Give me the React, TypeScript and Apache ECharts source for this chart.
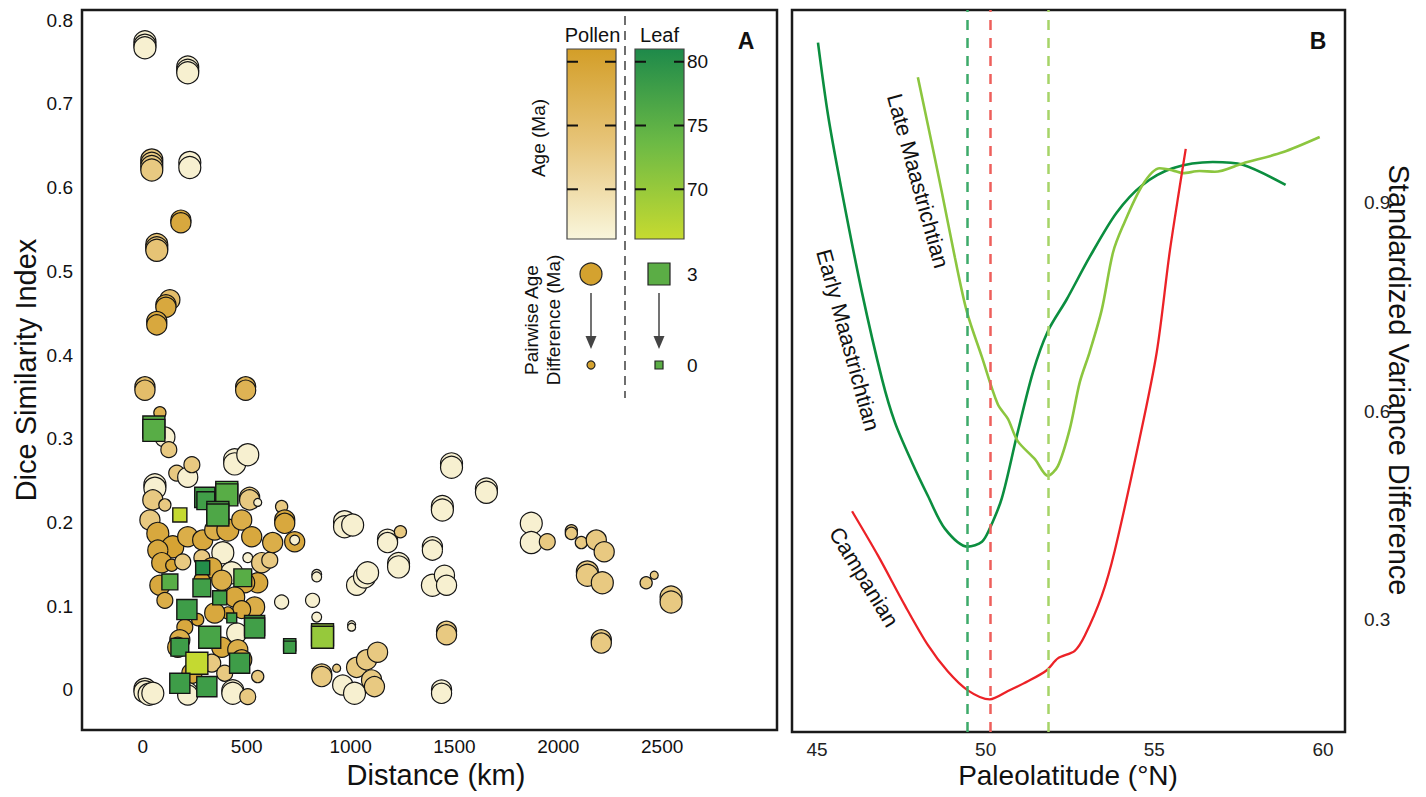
import React, { useEffect, useRef } from "react";
import * as echarts from "echarts";

const FONT = '"Liberation Sans", Arial, Helvetica, sans-serif';

// ---------- Panel A data: [distance km, Dice similarity, age (Ma), pairwise age difference (Ma)]
const pollenNear: number[][] = [
  [10, 0.774, 67, 3], [10, 0.770, 67, 3], [10, 0.767, 67, 3],
  [216, 0.744, 67, 3], [216, 0.740, 67, 3], [216, 0.737, 67, 3],
  [43, 0.633, 73, 3], [43, 0.629, 73, 3], [43, 0.625, 73, 3], [43, 0.621, 73, 3],
  [226, 0.630, 67, 3], [226, 0.624, 67, 3],
  [183, 0.561, 79, 2.6], [183, 0.558, 79, 2.6],
  [67, 0.532, 74, 3], [67, 0.528, 74, 3], [67, 0.525, 74, 3],
  [130, 0.466, 75, 2.6], [111, 0.460, 79, 2.6], [111, 0.457, 79, 2.6],
  [67, 0.440, 79, 2.6], [67, 0.436, 79, 2.6],
  [10, 0.362, 75, 2.6], [10, 0.358, 75, 2.6],
  [495, 0.362, 77, 2.6], [495, 0.358, 77, 2.6],
  [82, 0.331, 77, 0.9], [106, 0.302, 67, 2.6], [125, 0.287, 73, 1.7],
  [58, 0.245, 67, 3], [58, 0.241, 67, 3], [48, 0.227, 73, 2.6], [106, 0.221, 73, 0.9],
  [163, 0.259, 73, 1.7], [216, 0.254, 67, 2.6], [236, 0.269, 73, 1.7],
  [442, 0.275, 67, 3], [442, 0.270, 67, 3], [505, 0.281, 67, 3],
  [514, 0.230, 73, 2.6], [514, 0.227, 73, 2.6], [553, 0.224, 67, 0], [668, 0.219, 73, 0.9],
  [683, 0.203, 79, 2.6], [683, 0.199, 79, 2.6], [731, 0.177, 79, 2.6], [731, 0.179, 67, 0.4],
  [34, 0.203, 73, 2.6], [72, 0.187, 79, 3], [144, 0.171, 80, 3], [216, 0.183, 78, 2.6],
  [72, 0.167, 79, 2.6], [288, 0.179, 79, 2.6], [346, 0.191, 78, 2.6], [409, 0.191, 79, 3],
  [476, 0.203, 78, 2.6], [524, 0.183, 79, 2.6],
  [385, 0.164, 67, 3], [505, 0.158, 67, 0.4], [428, 0.140, 67, 3],
  [553, 0.128, 79, 2.6], [572, 0.152, 73, 2.6], [611, 0.155, 73, 1.7],
  [91, 0.152, 79, 2.6], [139, 0.149, 80, 0.9], [192, 0.153, 73, 1.7], [284, 0.158, 73, 1.7],
  [332, 0.146, 79, 2.6], [284, 0.131, 80, 1.7], [490, 0.128, 79, 2.6], [380, 0.131, 78, 2.6],
  [625, 0.176, 78, 2.6], [82, 0.125, 79, 2.6], [106, 0.107, 78, 1.7],
  [442, 0.111, 79, 2.6], [538, 0.099, 78, 2.6], [476, 0.096, 79, 2.1], [409, 0.092, 80, 0.9],
  [346, 0.092, 79, 2.6], [202, 0.075, 79, 1.7], [178, 0.060, 78, 2.6], [168, 0.051, 79, 2.6],
  [264, 0.084, 80, 0.9], [452, 0.068, 67, 2.6], [380, 0.051, 79, 2.6], [457, 0.048, 78, 2.6],
  [236, 0.020, 79, 2.6], [332, 0.032, 73, 2.1], [394, 0.020, 73, 1.7], [476, 0.036, 79, 2.6],
  [553, 0.016, 73, 0.9],
  [10, 0.001, 67, 3], [10, -0.002, 67, 3], [30, -0.005, 67, 3], [48, -0.004, 67, 3],
  [216, -0.003, 67, 2.6], [216, -0.006, 67, 2.6], [433, -0.001, 67, 3], [433, -0.004, 67, 3],
  [505, -0.008, 73, 1.7], [668, 0.105, 67, 1.3],
];

const pollenMid: number[][] = [
  [837, 0.138, 67, 0.4], [837, 0.135, 67, 0.4], [817, 0.107, 67, 1.3], [837, 0.087, 67, 0.4],
  [1005, 0.078, 67, 0], [1005, 0.075, 67, 0],
  [971, 0.201, 67, 3], [971, 0.195, 67, 3], [1010, 0.197, 67, 3],
  [1178, 0.180, 67, 2.6], [1178, 0.176, 67, 2.6], [1240, 0.189, 73, 0.9],
  [1231, 0.151, 67, 3], [1231, 0.147, 67, 3],
  [1029, 0.125, 67, 2.6], [1067, 0.135, 67, 3], [1082, 0.140, 67, 3],
  [1394, 0.171, 67, 2.6], [1394, 0.167, 67, 2.6], [1394, 0.125, 67, 3],
  [1452, 0.137, 67, 2.6], [1462, 0.125, 67, 2.6],
  [1486, 0.270, 67, 3], [1486, 0.266, 67, 3], [1442, 0.219, 67, 3], [1442, 0.215, 67, 3],
  [1462, 0.070, 73, 2.6], [1462, 0.066, 73, 2.6], [1438, 0.000, 67, 2.6], [1438, -0.004, 67, 2.6],
  [861, 0.019, 73, 2.6], [861, 0.016, 73, 2.6], [933, 0.026, 73, 0],
  [962, 0.006, 67, 2.6], [1019, -0.004, 67, 3],
  [1029, 0.027, 73, 2.6], [1077, 0.036, 73, 2.6], [1130, 0.045, 73, 2.6],
  [1101, 0.012, 73, 2.6], [1115, 0.004, 73, 2.6],
];

const pollenFar: number[][] = [
  [1654, 0.240, 67, 3], [1654, 0.236, 67, 3],
  [1870, 0.199, 67, 3], [1870, 0.176, 67, 3], [1947, 0.177, 73, 1.7],
  [2063, 0.190, 73, 0.9], [2063, 0.187, 73, 0.9], [2111, 0.176, 73, 0.9],
  [2183, 0.179, 73, 2.6], [2221, 0.165, 73, 2.6],
  [2140, 0.141, 73, 3], [2140, 0.137, 73, 3], [2212, 0.128, 73, 3],
  [2207, 0.060, 73, 2.6], [2207, 0.056, 73, 2.6],
  [2423, 0.128, 73, 0.9], [2462, 0.137, 73, 0],
  [2543, 0.111, 73, 3], [2543, 0.105, 73, 3],
];

const leafPoints: number[][] = [
  [53, 0.314, 75.5, 3], [53, 0.310, 75.5, 3],
  [298, 0.230, 77.7, 2.6], [303, 0.226, 77.7, 2.1],
  [404, 0.236, 75.5, 3], [404, 0.233, 75.5, 3],
  [361, 0.212, 76.5, 3], [361, 0.209, 76.5, 3],
  [178, 0.209, 66.3, 1.3], [130, 0.129, 75.5, 1.7], [288, 0.146, 80.5, 1.3],
  [284, 0.122, 77.7, 2.1], [481, 0.134, 75.5, 2.1], [370, 0.110, 77.7, 1.3],
  [212, 0.096, 78, 2.6], [538, 0.077, 77.7, 2.6], [538, 0.074, 77.7, 2.6],
  [322, 0.063, 77, 3], [428, 0.086, 78, 0.4], [178, 0.051, 78, 2.1],
  [260, 0.032, 66.3, 3], [466, 0.032, 78, 2.6], [178, 0.008, 78, 2.6], [308, 0.004, 78, 2.6],
  [707, 0.054, 78, 0.9], [707, 0.051, 78, 0.9],
  [865, 0.066, 70.1, 3], [865, 0.063, 70.1, 3],
];

const distanceTicks = [0, 500, 1000, 1500, 2000, 2500];
const diceTicks = [0, 0.1, 0.2, 0.3, 0.4, 0.5, 0.6, 0.7, 0.8];
const ageTicks = [70, 75, 80];
const diffLegend = [3, 0];
const ageRange = [66.1, 81];
const diffRange = [0, 3];

// ---------- Panel B data
const latTicks = [45, 50, 55, 60];
const varianceTicks = [0.3, 0.6, 0.9];

const earlyLat = [45.03, 45.33, 45.74, 46.33, 46.93, 47.31, 47.81, 48.29, 48.79, 49.47, 49.89, 50.12, 50.48, 50.92, 51.4, 51.84, 52.4, 53.08, 53.88, 54.65, 55.54, 56.73, 57.62, 58.89];
const earlyVar = [1.131, 1.026, 0.916, 0.772, 0.646, 0.584, 0.527, 0.478, 0.431, 0.405, 0.412, 0.431, 0.475, 0.564, 0.656, 0.715, 0.761, 0.822, 0.886, 0.926, 0.950, 0.959, 0.955, 0.926];

const lateLat = [47.99, 48.29, 48.7, 49.09, 49.44, 49.89, 50.36, 50.66, 50.95, 51.46, 51.84, 52.14, 52.49, 52.79, 53.08, 53.44, 53.77, 54.06, 54.65, 55.16, 55.54, 55.84, 56.34, 56.79, 57.62, 58.8, 59.9];
const lateVar = [1.081, 1.012, 0.916, 0.821, 0.744, 0.678, 0.610, 0.589, 0.557, 0.531, 0.507, 0.521, 0.574, 0.642, 0.685, 0.746, 0.828, 0.866, 0.926, 0.950, 0.947, 0.943, 0.946, 0.945, 0.957, 0.973, 0.995];

const campLat = [46.04, 46.81, 47.61, 48.29, 48.88, 49.47, 50.12, 50.66, 51.25, 51.81, 52.14, 52.64, 52.94, 53.44, 53.82, 54.56, 55.07, 55.45, 55.75, 55.93];
const campVar = [0.456, 0.392, 0.320, 0.263, 0.225, 0.198, 0.185, 0.197, 0.211, 0.227, 0.244, 0.255, 0.277, 0.334, 0.398, 0.560, 0.685, 0.828, 0.923, 0.978];

const optimumLat = [49.44, 50.13, 51.86]; // early, campanian, late

const POLLEN_COLORS = ["#F9F6DC", "#E7C57A", "#D39E28"];
const LEAF_COLORS = ["#C6DA30", "#6DBA45", "#1E8A4A"];

const zip = (a: number[], b: number[]) => a.map((v, i) => [v, b[i]]);
const sizeOf = (d: number) => 8 + ((d - diffRange[0]) / (diffRange[1] - diffRange[0])) * 14;

function tickFmt(ticks: number[], digits: number) {
  return (v: number) => {
    const t = ticks.find((x) => Math.abs(x - v) < 1e-6);
    if (t === undefined) return "";
    return t === 0 ? "0" : t.toFixed(digits);
  };
}

function buildLegend(): any[] {
  const barTop = 49, barH = 190, barW = 49;
  const pX = 567, lX = 635;
  const ageY = (v: number) => barTop + ((ageRange[1] - v) / (ageRange[1] - ageRange[0])) * barH;
  const grad = (cols: string[]) =>
    new echarts.graphic.LinearGradient(0, 0, 0, 1, [
      { offset: 0, color: cols[2] },
      { offset: 0.5, color: cols[1] },
      { offset: 1, color: cols[0] },
    ]);
  const els: any[] = [];
  const txt = (x: number, y: number, text: string, size: number, extra: any = {}) => ({
    type: "text", x, y, z: 100, ...extra,
    style: { text, fill: "#111", fontSize: size, fontFamily: FONT, align: "center", verticalAlign: "middle", ...(extra.style || {}) },
  });
  els.push(txt(pX + barW / 2 + 1, 35, "Pollen", 20));
  els.push(txt(lX + barW / 2, 35, "Leaf", 20));
  els.push({ type: "line", z: 100, shape: { x1: 625, y1: 16, x2: 625, y2: 398 }, style: { stroke: "#222", lineWidth: 1.3, lineDash: [9, 6] } });
  els.push({ type: "rect", z: 100, shape: { x: pX, y: barTop, width: barW, height: barH }, style: { fill: grad(POLLEN_COLORS), stroke: "#444", lineWidth: 1.2 } });
  els.push({ type: "rect", z: 100, shape: { x: lX, y: barTop, width: barW, height: barH }, style: { fill: grad(LEAF_COLORS), stroke: "#444", lineWidth: 1.2 } });
  ageTicks.forEach((a) => {
    const y = ageY(a);
    [[pX, pX + 11], [pX + barW - 11, pX + barW], [lX, lX + 11], [lX + barW - 10, lX + barW]].forEach(([x1, x2]) =>
      els.push({ type: "line", z: 101, shape: { x1, y1: y, x2, y2: y }, style: { stroke: "#111", lineWidth: 2 } })
    );
    els.push(txt(687, y, String(a), 19, { style: { align: "left" } }));
  });
  els.push(txt(538, 138, "Age (Ma)", 19, { rotation: Math.PI / 2 }));
  els.push(txt(542, 320, "Pairwise Age\nDifference (Ma)", 19, { rotation: Math.PI / 2, style: { lineHeight: 22 } }));
  const yBig = 274, ySmall = 365;
  const cx = 591, sx = 659;
  const big = sizeOf(diffLegend[0]), small = sizeOf(diffLegend[1]);
  els.push({ type: "circle", z: 100, shape: { cx, cy: yBig, r: big / 2 }, style: { fill: "#D4A22F", stroke: "#222", lineWidth: 1.2 } });
  els.push({ type: "circle", z: 100, shape: { cx, cy: ySmall, r: small / 2 }, style: { fill: "#D4A22F", stroke: "#222", lineWidth: 1.2 } });
  els.push({ type: "rect", z: 100, shape: { x: sx - big / 2, y: yBig - big / 2, width: big, height: big }, style: { fill: "#5BAD45", stroke: "#222", lineWidth: 1.2 } });
  els.push({ type: "rect", z: 100, shape: { x: sx - small / 2, y: ySmall - small / 2, width: small, height: small }, style: { fill: "#5BAD45", stroke: "#222", lineWidth: 1.2 } });
  [cx, sx].forEach((x) => {
    els.push({ type: "line", z: 100, shape: { x1: x, y1: 293, x2: x, y2: 338 }, style: { stroke: "#444", lineWidth: 1.5 } });
    els.push({ type: "polygon", z: 100, shape: { points: [[x - 5.5, 336], [x + 5.5, 336], [x, 349]] }, style: { fill: "#444" } });
  });
  els.push(txt(687, yBig, String(diffLegend[0]), 19, { style: { align: "left" } }));
  els.push(txt(687, ySmall, String(diffLegend[1]), 19, { style: { align: "left" } }));
  return els;
}

function buildTexts(): any[] {
  const t = (x: number, y: number, text: string, size: number, rot = 0, weight = "normal") => ({
    type: "text", x, y, rotation: rot, z: 100,
    style: { text, fill: "#111", fontSize: size, fontFamily: FONT, fontWeight: weight, align: "center", verticalAlign: "middle" },
  });
  const deg = Math.PI / 180;
  return [
    t(746, 41, "A", 23, 0, "bold"),
    t(1318, 41, "B", 23, 0, "bold"),
    t(26, 370, "Dice Similarity Index", 29, Math.PI / 2),
    t(436, 775, "Distance (km)", 29),
    t(1068, 775, "Paleolatitude (°N)", 28),
    t(1399, 380, "Standardized Variance Difference", 29, -Math.PI / 2),
    t(918, 181, "Late Maastrichtian", 22, -74.6 * deg),
    t(848, 340, "Early Maastrichtian", 22, -74.7 * deg),
    t(864, 577, "Campanian", 22, -58.5 * deg),
  ];
}

export default function App() {
  const ref = useRef<HTMLDivElement>(null);
  useEffect(() => {
    if (!ref.current) return;
    const chart = echarts.init(ref.current, undefined, { renderer: "svg" });
    const axisCommon = {
      axisLine: { show: false },
      axisTick: { show: false },
      splitLine: { show: false },
    };
    const labelStyle = { color: "#111", fontSize: 19, fontFamily: FONT, showMinLabel: false, showMaxLabel: false };
    const scatterStyle = { borderColor: "#151515", borderWidth: 1.2, opacity: 1 };
    const option: any = {
      animation: false,
      backgroundColor: "#ffffff",
      grid: [
        { left: 82, top: 10, width: 695, height: 720, show: true, borderColor: "#1a1a1a", borderWidth: 2.5, backgroundColor: "transparent" },
        { left: 792, top: 10, width: 553, height: 722, show: true, borderColor: "#1a1a1a", borderWidth: 2.5, backgroundColor: "transparent" },
      ],
      xAxis: [
        { type: "value", gridIndex: 0, min: -293, max: 3053, minInterval: 500, maxInterval: 500, ...axisCommon,
          axisLabel: { ...labelStyle, margin: 7, formatter: tickFmt(distanceTicks, 0) } },
        { type: "value", gridIndex: 1, min: 44.26, max: 60.65, minInterval: 5, maxInterval: 5, ...axisCommon,
          axisLabel: { ...labelStyle, color: "#222", margin: 8, formatter: tickFmt(latTicks, 0) } },
      ],
      yAxis: [
        { type: "value", gridIndex: 0, min: -0.0478, max: 0.812, minInterval: 0.1, maxInterval: 0.1, ...axisCommon,
          axisLabel: { ...labelStyle, margin: 9, formatter: tickFmt(diceTicks, 1) } },
        { type: "value", gridIndex: 1, position: "right", min: 0.138, max: 1.178, minInterval: 0.3, maxInterval: 0.3, ...axisCommon,
          axisLabel: { ...labelStyle, color: "#222", margin: 19, formatter: tickFmt(varianceTicks, 1) } },
      ],
      visualMap: [
        { type: "continuous", show: false, seriesIndex: 0, dimension: 2, min: ageRange[0], max: ageRange[1], inRange: { color: POLLEN_COLORS } },
        { type: "continuous", show: false, seriesIndex: 1, dimension: 2, min: ageRange[0], max: ageRange[1], inRange: { color: LEAF_COLORS } },
      ],
      series: [
        { type: "scatter", name: "Pollen", xAxisIndex: 0, yAxisIndex: 0, symbol: "circle",
          symbolSize: (v: number[]) => sizeOf(v[3]), itemStyle: scatterStyle,
          data: [...pollenNear, ...pollenMid, ...pollenFar] },
        { type: "scatter", name: "Leaf", xAxisIndex: 0, yAxisIndex: 0, symbol: "rect",
          symbolSize: (v: number[]) => sizeOf(v[3]), itemStyle: { ...scatterStyle, borderWidth: 1.4 },
          data: leafPoints },
        { type: "line", name: "Early Maastrichtian", xAxisIndex: 1, yAxisIndex: 1, showSymbol: false, smooth: 0.3,
          lineStyle: { color: "#0B8E3F", width: 2.6 }, data: zip(earlyLat, earlyVar) },
        { type: "line", name: "Late Maastrichtian", xAxisIndex: 1, yAxisIndex: 1, showSymbol: false, smooth: 0.3,
          lineStyle: { color: "#8CC63F", width: 2.6 }, data: zip(lateLat, lateVar) },
        { type: "line", name: "Campanian", xAxisIndex: 1, yAxisIndex: 1, showSymbol: false, smooth: 0.3,
          lineStyle: { color: "#EC2227", width: 2.3 }, data: zip(campLat, campVar),
          markLine: {
            silent: true, symbol: ["none", "none"], label: { show: false }, z: 10,
            lineStyle: { type: [10, 8], width: 2.5 },
            data: [
              { xAxis: optimumLat[0], lineStyle: { color: "#3DAA6A", type: [10, 8], width: 2.5 } },
              { xAxis: optimumLat[1], lineStyle: { color: "#EE5F5B", type: [10, 8], width: 2.5 } },
              { xAxis: optimumLat[2], lineStyle: { color: "#A6D468", type: [10, 8], width: 2.5 } },
            ],
          } },
      ],
      graphic: [...buildLegend(), ...buildTexts()],
    };
    chart.setOption(option);
    return () => chart.dispose();
  }, []);
  return (
    <div
      ref={ref}
      style={{ position: "absolute", left: 0, top: 0, width: 1426, height: 797, background: "#fff" }}
    />
  );
}
